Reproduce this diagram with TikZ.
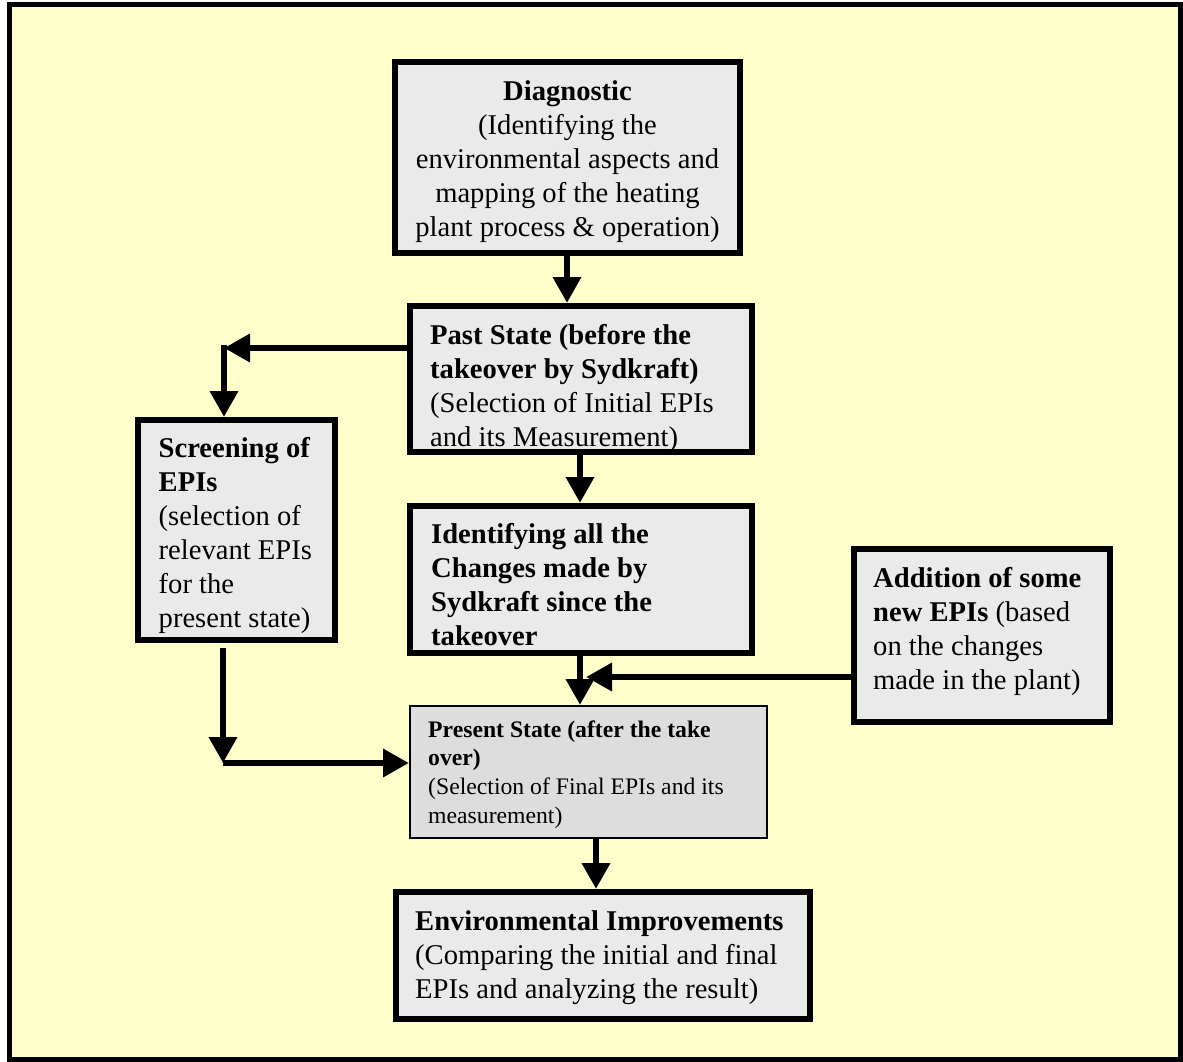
\documentclass[tikz,border=0pt]{standalone}
\usepackage{fontspec}
\setmainfont{Liberation Serif}
\usetikzlibrary{arrows.meta}

\definecolor{panel}{HTML}{FFFFCC}
\definecolor{boxfill}{HTML}{EAEAEA}
\definecolor{boxdark}{HTML}{DDDDDD}

\tikzset{
  stagebox/.style={draw=black, fill=boxfill, line width=6pt, rectangle, inner sep=0pt},
  thinbox/.style={draw=black, fill=boxdark, line width=2pt, rectangle, inner sep=0pt},
  txt/.style={inner sep=0pt, anchor=north west, align=left,
              font=\fontsize{28.6pt}{34pt}\selectfont},
  smalltxt/.style={inner sep=0pt, anchor=north west, align=left,
              font=\fontsize{23.7pt}{28.7pt}\selectfont},
  flow/.style={line width=6.5pt, -{Triangle[width=27pt,length=26pt]}}
}
% strut fixing the first baseline 25pt (21pt) below the node top
\newcommand{\topstrut}{\rule{0pt}{25pt}}
\newcommand{\smalltopstrut}{\rule{0pt}{21pt}}

\begin{document}
\begin{tikzpicture}[x=1pt,y=-1pt]
\useasboundingbox (0,0) rectangle (1183,1062);

% outer panel
\draw[line width=5pt, fill=panel] (9.5,4.5) rectangle (1180.5,1059.5);

% stage boxes
\node[stagebox, minimum width=345pt, minimum height=191pt] (diag)    at (567.5,157.5) {};
\node[stagebox, minimum width=342pt, minimum height=146pt] (past)    at (581,379) {};
\node[stagebox, minimum width=197pt, minimum height=220pt] (screen)  at (236.5,530) {};
\node[stagebox, minimum width=342pt, minimum height=147pt] (ident)   at (581,579.5) {};
\node[stagebox, minimum width=256pt, minimum height=173pt] (addepi)  at (982,635.5) {};
\node[thinbox,  minimum width=357pt, minimum height=132pt] (present) at (588.5,772) {};
\node[stagebox, minimum width=414pt, minimum height=127pt] (improve) at (603,955.5) {};

% box texts
\node[txt, anchor=north, align=center] (diagtext) at (567.5,75)
  {\topstrut\textbf{Diagnostic}\\(Identifying the\\environmental aspects and\\mapping of the heating\\plant process \& operation)};
\node[txt] (pasttext) at (430,319)
  {\topstrut\textbf{Past State (before the}\\\textbf{takeover by Sydkraft)}\\(Selection of Initial EPIs\\and its Measurement)};
\node[txt] (screentext) at (158.5,432)
  {\topstrut\textbf{Screening of}\\\textbf{EPIs}\\(selection of\\relevant EPIs\\for the\\present state)};
\node[txt] (identtext) at (431,518)
  {\topstrut\textbf{Identifying all the}\\\textbf{Changes made by}\\\textbf{Sydkraft since the}\\\textbf{takeover}};
\node[txt] (addtext) at (873,562)
  {\topstrut\textbf{Addition of some}\\\textbf{new EPIs} (based\\on the changes\\made in the plant)};
\node[smalltxt] (presenttext) at (428,716)
  {\smalltopstrut\textbf{Present State (after the take}\\\textbf{over)}\\(Selection of Final EPIs and its\\measurement)};
\node[txt] (improvetext) at (415,905)
  {\topstrut\textbf{Environmental Improvements}\\(Comparing the initial and final\\EPIs and analyzing the result)};

% junction points of the elbow connectors
\coordinate (bendA) at (224,348);
\coordinate (screenout) at (223,648);
\coordinate (bendB) at (223,763);
\coordinate (merge) at (586,677);

% connectors
\draw[flow] (567,0 |- diag.south) -- (567,0 |- past.north);
\draw[flow] (past.west |- bendA) -- (bendA);
\draw[flow] ([yshift=3pt]bendA) -- (bendA |- screen.north);
\draw[flow] (580,0 |- past.south) -- (580,0 |- ident.north);
\draw[flow] (580,0 |- ident.south) -- (580,0 |- present.north);
\draw[flow] (addepi.west |- merge) -- (merge);
\draw[flow] (screenout) -- (bendB);
\draw[flow] (bendB) -- (present.west |- bendB);
\draw[flow] (596,0 |- present.south) -- (596,0 |- improve.north);
\end{tikzpicture}
\end{document}
